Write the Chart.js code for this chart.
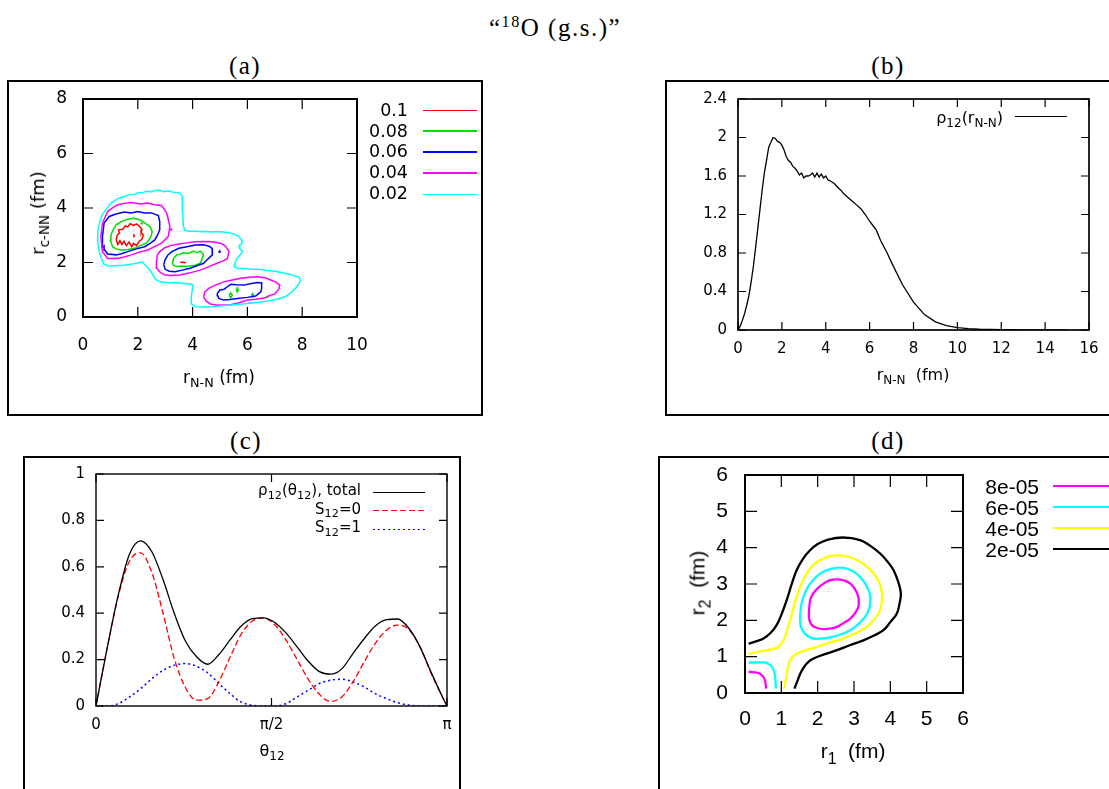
<!DOCTYPE html>
<html>
<head>
<meta charset="utf-8">
<script src="https://cdn.jsdelivr.net/npm/chart.js"></script>
<style>
body { margin: 0; width: 1109px; height: 789px; overflow: hidden; background: #fff; position: relative; font-family: 'Liberation Sans', Arial, sans-serif; color: #000; }
canvas { position: absolute; }
.frame { position: absolute; border: 2px solid #000; box-sizing: border-box; }
.t { position: absolute; transform: translate(-50%, -50%); white-space: nowrap; line-height: 1; }
.r { transform: translate(-100%, -50%); }
.v { transform: translate(-50%, -50%) rotate(-90deg); }
.ser { font-family: 'Liberation Serif', serif; letter-spacing: 1.5px; }
.dj { font-family: 'DejaVu Sans', sans-serif; }
.s { font-size: 75%; position: relative; top: .35em; }
.sp { font-size: 65%; position: relative; top: -.55em; }
.ln { position: absolute; }
</style>
</head>
<body>
<div class="frame" style="left:7px;top:80px;width:476px;height:336px"></div>
<div class="frame" style="left:665px;top:80px;width:460px;height:336px"></div>
<div class="frame" style="left:23px;top:456px;width:438px;height:400px"></div>
<div class="frame" style="left:658px;top:456px;width:460px;height:400px"></div>

<canvas id="ca"></canvas>
<canvas id="cb"></canvas>
<canvas id="cc"></canvas>
<canvas id="cd"></canvas>

<div class="t ser" style="left:555px;top:27px;font-size:25px">“<span class="sp">18</span>O (g.s.)”</div>
<div class="t ser" style="left:245px;top:65px;font-size:25px">(a)</div>
<div class="t ser" style="left:888px;top:65px;font-size:25px">(b)</div>
<div class="t ser" style="left:246px;top:440px;font-size:25px">(c)</div>
<div class="t ser" style="left:888px;top:440px;font-size:25px">(d)</div>

<!-- (a) -->
<div class="t dj" style="left:219px;top:377px;font-size:17px">r<span class="s">N-N</span> (fm)</div>
<div class="t v dj" style="left:38px;top:213px;font-size:18px">r<span class="s">c-NN</span> (fm)</div>
<div class="t r dj" style="left:408px;top:111px;font-size:17.5px">0.1</div>
<div class="t r dj" style="left:408px;top:131.5px;font-size:17.5px">0.08</div>
<div class="t r dj" style="left:408px;top:152px;font-size:17.5px">0.06</div>
<div class="t r dj" style="left:408px;top:173px;font-size:17.5px">0.04</div>
<div class="t r dj" style="left:408px;top:194px;font-size:17.5px">0.02</div>
<div class="ln" style="left:423px;top:109.5px;width:54px;height:1.5px;background:#ff0000"></div>
<div class="ln" style="left:423px;top:130px;width:54px;height:1.5px;background:#00dd00"></div>
<div class="ln" style="left:423px;top:151px;width:54px;height:1.5px;background:#0000ff"></div>
<div class="ln" style="left:423px;top:172px;width:54px;height:1.5px;background:#ff00ff"></div>
<div class="ln" style="left:423px;top:193.5px;width:54px;height:1.5px;background:#00ffff"></div>

<!-- (b) -->
<div class="t dj" style="left:913px;top:375px;font-size:16px">r<span class="s">N-N</span>&nbsp; (fm)</div>
<div class="t r dj" style="left:1003px;top:118px;font-size:16px">ρ<span class="s">12</span>(r<span class="s">N-N</span>)</div>
<div class="ln" style="left:1015px;top:116px;width:52px;height:1.3px;background:#000"></div>

<!-- (c) -->
<div class="t dj" style="left:272px;top:751px;font-size:16px">θ<span class="s">12</span></div>
<div class="t r dj" style="left:361px;top:490px;font-size:15px">ρ<span class="s">12</span>(θ<span class="s">12</span>), total</div>
<div class="t r dj" style="left:361px;top:508.5px;font-size:15px">S<span class="s">12</span>=0</div>
<div class="t r dj" style="left:361px;top:527px;font-size:15px">S<span class="s">12</span>=1</div>
<div class="ln" style="left:373px;top:491.5px;width:52px;height:1.3px;background:#000"></div>
<div class="ln" style="left:373px;top:510px;width:52px;height:1.3px;background:repeating-linear-gradient(to right,#ff0000 0 6px,transparent 6px 9px)"></div>
<div class="ln" style="left:373px;top:528.5px;width:52px;height:1.5px;background:repeating-linear-gradient(to right,#0000ff 0 2px,transparent 2px 5px)"></div>

<!-- (d) -->
<div class="t" style="left:853px;top:750px;font-size:21px">r<span class="s">1</span>&nbsp; (fm)</div>
<div class="t v" style="left:697px;top:583px;font-size:21px">r<span class="s">2</span>&nbsp; (fm)</div>
<div class="t r" style="left:1039px;top:486px;font-size:21px">8e-05</div>
<div class="t r" style="left:1039px;top:507px;font-size:21px">6e-05</div>
<div class="t r" style="left:1039px;top:528px;font-size:21px">4e-05</div>
<div class="t r" style="left:1039px;top:549px;font-size:21px">2e-05</div>
<div class="ln" style="left:1053px;top:485px;width:70px;height:2.3px;background:#ff00ff"></div>
<div class="ln" style="left:1053px;top:506px;width:70px;height:2.3px;background:#00ffff"></div>
<div class="ln" style="left:1053px;top:527px;width:70px;height:2.3px;background:#ffff00"></div>
<div class="ln" style="left:1053px;top:548px;width:70px;height:2.3px;background:#000"></div>

<script>
// ---------- (b) rho12(r_N-N) ----------
const rNN = [0, 0.1, 0.2, 0.3, 0.4, 0.5, 0.6, 0.7, 0.8, 0.9, 1.0, 1.1, 1.2, 1.3, 1.4, 1.5, 1.6, 1.7, 1.8, 1.9,
  2.0, 2.1, 2.2, 2.3, 2.4, 2.5, 2.6, 2.7, 2.8, 2.9, 3.0, 3.1, 3.2, 3.3, 3.4, 3.5, 3.6, 3.7, 3.8, 3.9,
  4.0, 4.1, 4.2, 4.4, 4.6, 4.7, 4.8, 5.0, 5.2, 5.4, 5.6, 5.8, 6.0, 6.2, 6.3, 6.5, 6.8, 7.0, 7.5, 8.0,
  8.5, 9.0, 9.5, 10, 10.5, 11, 12, 13, 14, 15];
const rho12 = [0, 0.04, 0.1, 0.17, 0.26, 0.36, 0.5, 0.66, 0.85, 1.05, 1.25, 1.45, 1.63, 1.76, 1.9, 1.95, 2.0, 1.99, 1.96, 1.95,
  1.92, 1.87, 1.80, 1.76, 1.74, 1.70, 1.68, 1.65, 1.61, 1.63, 1.58, 1.60, 1.60, 1.61, 1.63, 1.59, 1.63, 1.59, 1.62, 1.58,
  1.60, 1.56, 1.55, 1.52, 1.47, 1.45, 1.42, 1.38, 1.34, 1.30, 1.26, 1.20, 1.13, 1.07, 1.04, 0.93, 0.80, 0.70, 0.47, 0.29,
  0.16, 0.085, 0.045, 0.025, 0.014, 0.008, 0.003, 0.001, 0.0005, 0.0002];

// ---------- (c) rho12(theta12) ----------
const theta = [0, 0.1, 0.2, 0.3, 0.4, 0.5, 0.6, 0.7, 0.8, 0.9, 1.0, 1.1, 1.2, 1.3, 1.4, 1.5, 1.6, 1.7, 1.8, 1.9,
  2.0, 2.1, 2.2, 2.3, 2.4, 2.5, 2.6, 2.7, 2.8, 2.9, 3.0, 3.1, 3.1416];
const rhoTot = [0, 0.25, 0.48, 0.655, 0.712, 0.665, 0.545, 0.40, 0.28, 0.212, 0.18, 0.222, 0.285, 0.345, 0.377, 0.38, 0.36, 0.315, 0.255, 0.193,
  0.148, 0.137, 0.16, 0.226, 0.29, 0.345, 0.372, 0.375, 0.335, 0.255, 0.145, 0.04, 0];
const rhoS0 = [0, 0.25, 0.475, 0.625, 0.66, 0.575, 0.40, 0.205, 0.08, 0.025, 0.032, 0.105, 0.21, 0.31, 0.366, 0.38, 0.35, 0.285, 0.2, 0.115,
  0.05, 0.02, 0.039, 0.104, 0.19, 0.27, 0.327, 0.349, 0.33, 0.255, 0.14, 0.04, 0];
const rhoS1 = [0, 0, 0.01, 0.039, 0.075, 0.118, 0.154, 0.176, 0.183, 0.171, 0.143, 0.097, 0.053, 0.017, 0.003, 0, 0, 0.01, 0.039, 0.068,
  0.097, 0.111, 0.115, 0.104, 0.082, 0.053, 0.032, 0.014, 0.004, 0, 0, 0, 0];

// ---------- (a) contours (r_N-N, r_c-NN) ----------
const a002 = [[0.84,3.94],[1.02,4.18],[1.2,4.3],[1.33,4.37],[1.5,4.42],[1.70,4.49],[1.9,4.50],[2.0,4.56],[2.2,4.57],[2.31,4.61],[2.5,4.60],[2.65,4.64],[2.8,4.65],[2.95,4.60],[3.1,4.62],[3.3,4.58],[3.5,4.56],[3.62,4.45],[3.63,4.2],[3.62,3.9],[3.65,3.6],[3.66,3.35],[3.72,3.17],[3.9,3.15],[4.1,3.16],[4.3,3.13],[4.5,3.14],[4.7,3.12],[4.9,3.14],[5.1,3.12],[5.3,3.10],[5.5,3.05],[5.65,2.98],[5.78,2.85],[5.80,2.70],[5.70,2.62],[5.72,2.5],[5.82,2.42],[5.75,2.3],[5.62,2.15],[5.55,2.0],[5.52,1.85],[5.65,1.78],[5.9,1.78],[6.1,1.76],[6.3,1.75],[6.5,1.74],[6.8,1.70],[7.0,1.68],[7.2,1.64],[7.4,1.60],[7.6,1.55],[7.75,1.50],[7.9,1.45],[7.93,1.35],[7.88,1.22],[7.75,1.05],[7.6,0.90],[7.4,0.76],[7.2,0.68],[7.0,0.63],[6.8,0.60],[6.5,0.55],[6.2,0.52],[5.9,0.49],[5.6,0.46],[5.3,0.43],[5.0,0.40],[4.7,0.38],[4.4,0.37],[4.1,0.38],[3.96,0.48],[3.95,0.7],[3.98,0.95],[4.02,1.17],[3.85,1.22],[3.6,1.24],[3.3,1.26],[3.0,1.27],[2.8,1.30],[2.65,1.38],[2.55,1.55],[2.45,1.70],[2.3,1.88],[2.15,2.02],[1.95,1.97],[1.7,1.93],[1.5,1.90],[1.3,1.89],[1.1,1.87],[0.9,1.88],[0.75,1.95],[0.65,2.2],[0.57,2.5],[0.53,2.85],[0.54,3.15],[0.6,3.45],[0.7,3.75],[0.84,3.94]];
const a004L = [[0.71,3.45],[0.90,3.87],[1.1,4.02],[1.27,4.12],[1.5,4.17],[1.76,4.20],[2.1,4.15],[2.37,4.18],[2.6,4.12],[2.87,4.09],[3.05,3.82],[3.12,3.55],[3.17,3.32],[3.11,2.95],[2.87,2.71],[2.6,2.58],[2.37,2.46],[2.05,2.38],[1.76,2.28],[1.5,2.2],[1.27,2.15],[0.90,2.15],[0.71,2.40],[0.65,2.95],[0.71,3.45]];
const a004M = [[2.68,2.09],[2.70,2.25],[2.80,2.40],[3.0,2.55],[3.2,2.62],[3.5,2.68],[3.8,2.72],[4.1,2.76],[4.40,2.77],[4.7,2.76],[5.02,2.71],[5.2,2.6],[5.33,2.40],[5.27,2.15],[5.1,2.05],[4.89,1.97],[4.6,1.85],[4.28,1.72],[3.9,1.62],[3.54,1.54],[3.2,1.52],[2.99,1.54],[2.80,1.65],[2.70,1.79],[2.68,2.09]];
const a004B = [[4.40,0.74],[4.45,0.92],[4.59,1.05],[4.85,1.18],[5.14,1.29],[5.45,1.36],[5.76,1.42],[6.05,1.46],[6.37,1.48],[6.65,1.44],[6.87,1.35],[7.05,1.27],[7.18,1.17],[7.15,1.02],[7.0,0.85],[6.80,0.78],[6.62,0.70],[6.3,0.65],[6.0,0.62],[5.7,0.52],[5.39,0.45],[5.1,0.44],[4.90,0.43],[4.65,0.48],[4.50,0.58],[4.40,0.74]];
const a004dot = [[3.18,3.17],[3.22,3.23],[3.25,3.18]];
const a006L = [[0.71,2.95],[0.77,3.45],[0.96,3.69],[1.2,3.78],[1.51,3.85],[1.75,3.82],[2.0,3.87],[2.25,3.82],[2.50,3.82],[2.75,3.72],[2.80,3.50],[2.80,3.20],[2.72,3.0],[2.62,2.83],[2.45,2.70],[2.25,2.58],[1.95,2.5],[1.63,2.40],[1.4,2.32],[1.21,2.28],[0.90,2.31],[0.80,2.45],[0.77,2.6],[0.72,2.55],[0.71,2.95]];
const a006M = [[2.95,1.91],[2.99,2.09],[3.1,2.28],[3.24,2.40],[3.5,2.52],[3.79,2.58],[4.1,2.64],[4.40,2.65],[4.6,2.6],[4.71,2.52],[4.73,2.40],[4.71,2.28],[4.55,2.12],[4.40,1.97],[4.15,1.88],[3.91,1.79],[3.62,1.72],[3.36,1.66],[3.15,1.68],[3.0,1.75],[2.95,1.91]];
const a006B = [[4.90,0.86],[5.0,0.99],[5.15,1.02],[5.27,1.11],[5.39,1.20],[5.6,1.18],[5.88,1.17],[6.1,1.22],[6.37,1.27],[6.52,1.25],[6.52,1.05],[6.49,0.92],[6.30,0.77],[6.0,0.72],[5.63,0.68],[5.35,0.64],[5.14,0.62],[4.96,0.68],[4.92,0.78],[4.90,0.86]];
const a006dot = [[4.95,2.36],[4.99,2.42],[5.02,2.36]];
const a008L = [[0.99,2.83],[1.02,3.01],[1.10,3.2],[1.21,3.38],[1.4,3.5],[1.63,3.59],[1.85,3.62],[2.07,3.57],[2.25,3.45],[2.44,3.32],[2.52,3.15],[2.50,3.01],[2.42,2.85],[2.31,2.71],[2.1,2.62],[1.88,2.52],[1.65,2.48],[1.39,2.46],[1.2,2.5],[1.08,2.58],[0.99,2.83]];
const a008M = [[3.27,1.97],[3.3,2.15],[3.42,2.28],[3.55,2.3],[3.66,2.36],[3.85,2.33],[4.03,2.42],[4.15,2.36],[4.28,2.42],[4.40,2.28],[4.35,2.15],[4.28,1.97],[4.1,1.9],[3.95,1.88],[3.79,1.85],[3.6,1.87],[3.42,1.85],[3.3,1.9],[3.27,1.97]];
const a008d1 = [[5.33,0.80],[5.39,0.88],[5.45,0.80],[5.39,0.72],[5.33,0.80]];
const a008d2 = [[5.59,0.99],[5.63,1.07],[5.67,0.99],[5.63,0.91],[5.59,0.99]];
const a008d3 = [[6.15,0.80],[6.19,0.86],[6.23,0.80],[6.19,0.74],[6.15,0.80]];
const a008d4 = [[2.1,3.41],[2.14,3.45],[2.17,3.40]];
const a010L = [[1.21,2.83],[1.25,3.0],[1.33,3.08],[1.3,3.2],[1.45,3.22],[1.55,3.35],[1.63,3.30],[1.72,3.42],[1.85,3.36],[1.95,3.42],[2.07,3.32],[2.15,3.2],[2.12,3.1],[2.2,3.0],[2.15,2.85],[2.05,2.78],[1.95,2.62],[1.85,2.7],[1.78,2.58],[1.68,2.75],[1.58,2.62],[1.5,2.78],[1.42,2.66],[1.35,2.8],[1.27,2.66],[1.21,2.83]];
const a010d1 = [[1.83,2.95],[1.86,3.0],[1.89,2.96]];
const a010d2 = [[3.55,2.0],[3.63,2.02],[3.70,1.99],[3.76,2.0]];

// ---------- (d) contours (r1, r2) ----------
const d2 = [[0.1,1.36],[0.3,1.42],[0.51,1.50],[0.7,1.65],[0.87,1.87],[1.0,2.15],[1.15,2.56],[1.28,2.98],[1.42,3.38],[1.6,3.7],[1.79,3.93],[2.0,4.1],[2.25,4.21],[2.69,4.28],[3.17,4.21],[3.45,4.05],[3.72,3.84],[3.92,3.62],[4.09,3.38],[4.22,3.05],[4.29,2.74],[4.25,2.45],[4.18,2.19],[4.0,1.95],[3.81,1.73],[3.55,1.58],[3.26,1.45],[2.9,1.32],[2.53,1.18],[2.2,1.07],[1.98,0.99],[1.80,0.90],[1.70,0.81],[1.6,0.68],[1.52,0.53],[1.43,0.3],[1.36,0.12]];
const d4 = [[0.1,1.08],[0.3,1.12],[0.51,1.16],[0.75,1.21],[0.92,1.27],[1.06,1.45],[1.15,1.7],[1.24,2.0],[1.33,2.33],[1.42,2.65],[1.55,3.0],[1.70,3.29],[1.88,3.52],[2.07,3.66],[2.3,3.76],[2.57,3.79],[2.85,3.75],[3.08,3.66],[3.33,3.5],[3.54,3.29],[3.70,3.02],[3.77,2.74],[3.76,2.5],[3.72,2.28],[3.57,2.04],[3.35,1.82],[3.05,1.65],[2.71,1.50],[2.35,1.39],[1.98,1.27],[1.65,1.17],[1.42,1.08],[1.3,0.98],[1.24,0.90],[1.18,0.72],[1.15,0.53],[1.11,0.3],[1.08,0.12]];
const d6 = [[1.52,2.19],[1.55,2.42],[1.61,2.65],[1.72,2.9],[1.88,3.11],[2.05,3.27],[2.25,3.38],[2.57,3.45],[2.80,3.42],[2.99,3.34],[3.17,3.19],[3.31,3.01],[3.42,2.78],[3.45,2.56],[3.42,2.32],[3.31,2.10],[3.12,1.90],[2.90,1.73],[2.62,1.61],[2.34,1.53],[2.1,1.50],[1.88,1.50],[1.72,1.57],[1.61,1.68],[1.54,1.82],[1.52,1.96],[1.52,2.19]];
const d6b = [[0.1,0.84],[0.3,0.84],[0.51,0.84],[0.65,0.8],[0.74,0.72],[0.8,0.6],[0.83,0.44],[0.84,0.3],[0.85,0.12]];
const d8 = [[1.77,2.37],[1.80,2.58],[1.88,2.74],[2.0,2.88],[2.16,3.01],[2.33,3.1],[2.53,3.13],[2.72,3.10],[2.90,3.01],[3.03,2.85],[3.12,2.65],[3.13,2.50],[3.12,2.37],[3.03,2.2],[2.90,2.05],[2.72,1.93],[2.53,1.82],[2.33,1.77],[2.16,1.76],[1.98,1.79],[1.84,1.87],[1.78,1.98],[1.76,2.10],[1.76,2.24],[1.77,2.37]];
const d8b = [[0.1,0.58],[0.25,0.57],[0.41,0.53],[0.5,0.45],[0.55,0.35],[0.57,0.22],[0.58,0.12]];

// frame + inward ticks on all four sides, gnuplot style
Chart.register({
  id: 'frame',
  defaults: { lw: 2, len: 8 },
  afterDraw(chart, args, o) {
    const { ctx, chartArea: a, scales: { x, y } } = chart;
    ctx.save();
    ctx.strokeStyle = '#000';
    ctx.lineWidth = 1.2;
    ctx.beginPath();
    x.ticks.forEach(t => {
      const p = x.getPixelForValue(t.value);
      ctx.moveTo(p, a.bottom); ctx.lineTo(p, a.bottom - o.len);
      ctx.moveTo(p, a.top); ctx.lineTo(p, a.top + o.len);
    });
    y.ticks.forEach(t => {
      const p = y.getPixelForValue(t.value);
      ctx.moveTo(a.left, p); ctx.lineTo(a.left + o.len, p);
      ctx.moveTo(a.right, p); ctx.lineTo(a.right - o.len, p);
    });
    ctx.stroke();
    ctx.lineWidth = o.lw;
    ctx.strokeRect(a.left, a.top, a.right - a.left, a.bottom - a.top);
    ctx.restore();
  }
});

Chart.defaults.color = '#000';
Chart.defaults.animation = false;
Chart.defaults.plugins.legend.display = false;
Chart.defaults.plugins.tooltip.enabled = false;

const SANS = "'Liberation Sans', Arial, sans-serif";
const DJ = "'DejaVu Sans', sans-serif";

function axis(min, max, step, size, pad, family, extra) {
  return Object.assign({
    type: 'linear', min: min, max: max,
    grid: { display: false, drawTicks: false },
    border: { display: false },
    ticks: { stepSize: step, font: { size: size, family: family }, padding: pad, maxRotation: 0, autoSkip: false,
      callback: v => String(+v.toFixed(2)) }
  }, extra || {});
}

// place chart so that its plot area lands on area (page px)
function mk(id, box, area, datasets, xs, ys, frame) {
  const c = document.getElementById(id);
  c.width = box.w; c.height = box.h;
  c.style.left = box.x + 'px'; c.style.top = box.y + 'px';
  xs.afterFit = s => { s.height = box.y + box.h - area.b; s.paddingLeft = 0; s.paddingRight = 0; };
  ys.afterFit = s => { s.width = area.l - box.x; s.paddingTop = 0; s.paddingBottom = 0; };
  return new Chart(c, {
    type: 'scatter',
    data: { datasets: datasets },
    options: {
      responsive: false,
      layout: { padding: { left: 0, top: area.t - box.y, right: box.x + box.w - area.r, bottom: 0 } },
      scales: { x: xs, y: ys },
      plugins: { frame: frame }
    }
  });
}

const pts = arr => arr.map(p => ({ x: p[0], y: p[1] }));
const line = (arr, color, w, extra) => Object.assign({
  data: pts(arr), borderColor: color, borderWidth: w, showLine: true, pointRadius: 0, fill: false, tension: 0
}, extra || {});

// (a)
const levelsA = [
  { color: '#00ffff', lines: [a002] },
  { color: '#ff00ff', lines: [a004L, a004M, a004B, a004dot] },
  { color: '#0000ff', lines: [a006L, a006M, a006B, a006dot] },
  { color: '#00dd00', lines: [a008L, a008M, a008d1, a008d2, a008d3, a008d4] },
  { color: '#ff0000', lines: [a010L, a010d1, a010d2] }
];
mk('ca', { x: 12, y: 84, w: 370, h: 300 }, { l: 83, r: 357, t: 99, b: 317 },
  levelsA.flatMap(l => l.lines.map(p => line(p, l.color, 1.5))),
  axis(0, 10, 2, 17, 18, DJ), axis(0, 8, 2, 17, 16, DJ), { lw: 2, len: 10 });

// (b)
mk('cb', { x: 668, y: 84, w: 438, h: 300 }, { l: 738, r: 1089, t: 99, b: 330 },
  [line(rNN.map((x, i) => [x, rho12[i]]), '#000', 1.3)],
  axis(0, 16, 2, 15, 10, DJ), axis(0, 2.4, 0.4, 15, 11, DJ), { lw: 1.7, len: 8 });

// (c)
const halfPi = Math.PI / 2;
mk('cc', { x: 26, y: 460, w: 432, h: 300 }, { l: 96, r: 447, t: 474, b: 706 },
  [
    line(theta.map((x, i) => [x, rhoTot[i]]), '#000', 1.3, { cubicInterpolationMode: 'monotone' }),
    line(theta.map((x, i) => [x, rhoS0[i]]), '#ff0000', 1.3, { cubicInterpolationMode: 'monotone', borderDash: [6, 3] }),
    line(theta.map((x, i) => [x, rhoS1[i]]), '#0000ff', 1.5, { cubicInterpolationMode: 'monotone', borderDash: [2, 3] })
  ],
  axis(0, Math.PI, 1, 15, 10, DJ, {
    afterBuildTicks: s => { s.ticks = [0, halfPi, Math.PI].map(v => ({ value: v })); },
    ticks: { font: { size: 15, family: DJ }, padding: 10, maxRotation: 0, autoSkip: false,
      callback: v => v === 0 ? '0' : (Math.abs(v - halfPi) < 1e-6 ? 'π/2' : 'π') }
  }),
  axis(0, 1, 0.2, 15, 11, DJ), { lw: 1.4, len: 8 });

// (d)
const levelsD = [
  { color: '#000000', lines: [d2] },
  { color: '#ffff00', lines: [d4] },
  { color: '#00ffff', lines: [d6, d6b] },
  { color: '#ff00ff', lines: [d8, d8b] }
];
mk('cd', { x: 662, y: 460, w: 330, h: 300 }, { l: 745, r: 963, t: 475, b: 693 },
  levelsD.flatMap(l => l.lines.map(p => line(p, l.color, 2.3, { tension: 0.4 }))),
  axis(0, 6, 1, 21, 14, SANS), axis(0, 6, 1, 21, 17, SANS), { lw: 2, len: 12 });
</script>
</body>
</html>
